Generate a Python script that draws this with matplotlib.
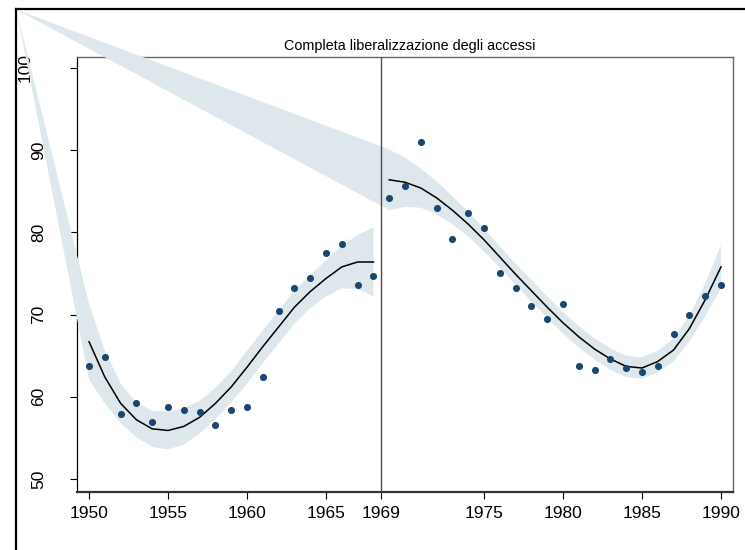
import matplotlib.pyplot as plt
from matplotlib.lines import Line2D
from matplotlib.transforms import ScaledTranslation

plt.rcParams["font.family"] = ["Liberation Sans", "DejaVu Sans"]

# observed series, before and after the 1969 reform
years_pre = list(range(1950, 1969))
values_pre = [63.7, 64.8, 57.9, 59.2, 56.9, 58.8, 58.4, 58.2, 56.6, 58.4,
              58.8, 62.4, 70.4, 73.2, 74.5, 77.5, 78.6, 73.6, 74.7]
fit_pre = [66.7, 62.4, 59.2, 57.2, 56.1, 55.9, 56.4, 57.5, 59.2, 61.2,
           63.6, 66.1, 68.5, 70.9, 72.8, 74.4, 75.8, 76.4, 76.4]
upper_pre = [71.3, 65.6, 61.6, 59.3, 58.3, 58.2, 58.6, 59.5, 61.1, 63.1,
             65.6, 68.1, 70.5, 72.9, 74.8, 76.6, 78.4, 79.7, 80.6]
lower_pre = [62.1, 59.2, 56.8, 55.1, 53.9, 53.6, 54.2, 55.5, 57.3, 59.3,
             61.6, 64.1, 66.5, 68.9, 70.8, 72.2, 73.2, 73.1, 72.2]

years_post = list(range(1969, 1991))
values_post = [84.2, 85.7, 91.0, 83.0, 79.2, 82.3, 80.5, 75.1, 73.2, 71.1, 69.5,
               71.3, 63.8, 63.3, 64.6, 63.5, 63.0, 63.7, 67.6, 70.0, 72.3, 73.6]
fit_post = [86.4, 86.1, 85.4, 84.2, 82.7, 81.0, 79.1, 77.0, 74.9, 72.9, 70.9,
            69.0, 67.3, 65.8, 64.6, 63.7, 63.5, 64.3, 65.7, 68.3, 71.8, 75.8]
upper_post = [90.1, 89.1, 87.8, 86.2, 84.4, 82.5, 80.5, 78.3, 76.2, 74.2, 72.2,
              70.3, 68.6, 67.1, 65.9, 65.0, 64.8, 65.6, 67.1, 69.9, 73.8, 78.4]
lower_post = [82.7, 83.1, 83.0, 82.2, 81.0, 79.5, 77.7, 75.7, 73.6, 71.6, 69.6,
              67.7, 66.0, 64.5, 63.3, 62.4, 62.2, 63.0, 64.3, 66.7, 69.8, 73.2]

# stray first vertex of both CI areas
band_origin = (1945.4, 107.1)

cutoff = 1968.5
xticks = [1950, 1955, 1960, 1965, cutoff, 1975, 1980, 1985, 1990]
xtick_labels = ["1950", "1955", "1960", "1965", "1969", "1975", "1980", "1985", "1990"]
yticks = [50, 60, 70, 80, 90, 100]

band_color = "#dde7ec"
dot_color = "#1a476f"

fig = plt.figure(figsize=(7.45, 5.5), dpi=100)
ax = fig.add_axes([0.1034, 0.1055, 0.8805, 0.7909])

for yrs, up, lo in [(years_pre, upper_pre, lower_pre), (years_post, upper_post, lower_post)]:
    xs = [band_origin[0]] + yrs + yrs[::-1]
    ys = [band_origin[1]] + up + lo[::-1]
    ax.fill(xs, ys, color=band_color, lw=0, clip_on=False, zorder=2.6)

ax.plot(years_pre, fit_pre, color="black", lw=1.1, zorder=3)
ax.plot(years_post, fit_post, color="black", lw=1.1, zorder=3)
ax.scatter(years_pre, values_pre, s=26, color=dot_color, zorder=3.5, lw=0)
ax.scatter(years_post, values_post, s=26, color=dot_color, zorder=3.5, lw=0)
ax.axvline(cutoff, color="#4d4d4d", lw=1.0, zorder=4)

ax.set_xlim(1949.24, 1990.76)
ax.set_ylim(48.42, 101.34)
ax.set_xticks(xticks)
ax.set_xticklabels(xtick_labels)
ax.set_yticks(yticks)
ax.set_yticklabels([str(v) for v in yticks], rotation=90, va="center")
ax.tick_params(axis="x", length=5, width=0.8, pad=5, labelsize=12.5)
ax.tick_params(axis="y", length=5, width=0.8, pad=17, labelsize=12.5)

for lbl in ax.get_yticklabels():
    if lbl.get_text() == "100":
        lbl.set_transform(lbl.get_transform() + ScaledTranslation(-14 / 100, 0, fig.dpi_scale_trans))

ax.spines["left"].set_color("black")
ax.spines["left"].set_linewidth(0.9)
ax.spines["bottom"].set_color("#333333")
ax.spines["bottom"].set_linewidth(1.6)
for side in ["top", "right"]:
    ax.spines[side].set_color("#666666")
    ax.spines[side].set_linewidth(1.0)

ax.set_title("Completa liberalizzazione degli accessi", fontsize=10.4, pad=5, x=0.507)

# outer frame: top and left edges only
fig.add_artist(Line2D([0.0215, 1.0], [0.9836, 0.9836], transform=fig.transFigure,
                      color="black", lw=1.6))
fig.add_artist(Line2D([0.0215, 0.0215], [0.0, 0.9836], transform=fig.transFigure,
                      color="black", lw=1.6))

fig.savefig("out.png", dpi=100)
